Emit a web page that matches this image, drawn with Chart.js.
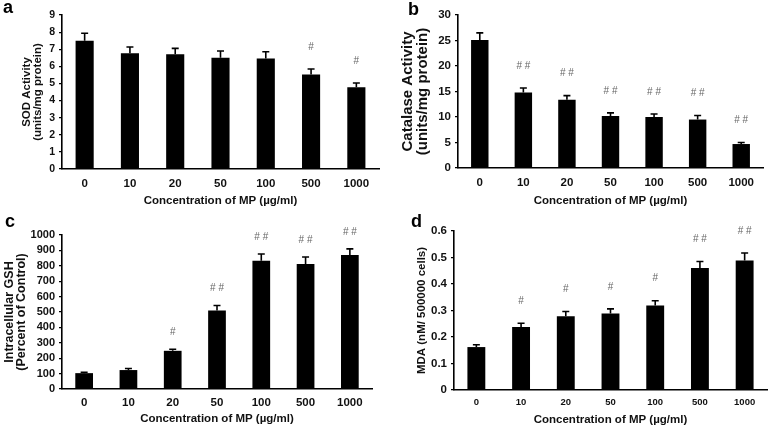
<!DOCTYPE html>
<html>
<head>
<meta charset="utf-8">
<script src="https://cdn.jsdelivr.net/npm/chart.js"></script>
<style>
  body { margin: 0; background: #fff; }
  #wrap { position: relative; width: 778px; height: 427px; overflow: hidden; }
  .panel { position: absolute; }
  .letter { position: absolute; font: bold 18px "Liberation Sans", Arial, sans-serif; line-height: 1; color: #000; }
</style>
</head>
<body>
<div id="wrap">
  <div class="panel" style="left:0;top:0"><canvas id="chartA" width="389" height="213"></canvas></div>
  <div class="panel" style="left:389px;top:0"><canvas id="chartB" width="389" height="213"></canvas></div>
  <div class="panel" style="left:0;top:213px"><canvas id="chartC" width="389" height="214"></canvas></div>
  <div class="panel" style="left:389px;top:213px"><canvas id="chartD" width="389" height="214"></canvas></div>
  <div class="letter" style="left:3px;top:-2px">a</div>
  <div class="letter" style="left:408px;top:0">b</div>
  <div class="letter" style="left:5px;top:212px">c</div>
  <div class="letter" style="left:411px;top:212px">d</div>
</div>
<script>
// categories (x axis)
const concentrations = ['0', '10', '20', '50', '100', '500', '1000'];

// a: SOD activity
const sodValues = [7.5, 6.77, 6.7, 6.5, 6.46, 5.52, 4.78];
const sodErrors = [0.43, 0.36, 0.35, 0.4, 0.39, 0.32, 0.25];
const sodMarks = ['', '', '', '', '', '#', '#'];

// b: Catalase activity
const catalaseValues = [25.1, 14.8, 13.4, 10.2, 10.0, 9.5, 4.7];
const catalaseErrors = [1.4, 0.9, 0.8, 0.6, 0.6, 0.8, 0.3];
const catalaseMarks = ['', '# #', '# #', '# #', '# #', '# #', '# #'];

// c: Intracellular GSH
const gshValues = [103, 123, 248, 510, 832, 812, 870];
const gshErrors = [6, 10, 10, 32, 45, 45, 40];
const gshMarks = ['', '', '#', '# #', '# #', '# #', '# #'];

// d: MDA
const mdaValues = [0.162, 0.238, 0.278, 0.289, 0.319, 0.46, 0.489];
const mdaErrors = [0.009, 0.014, 0.018, 0.017, 0.018, 0.025, 0.028];
const mdaMarks = ['', '#', '#', '#', '#', '# #', '# #'];

const FONT = '"Liberation Sans", Arial, sans-serif';

// draws the upper error bars and the significance marks above them
const errorBarPlugin = {
  id: 'errorBars',
  afterDatasetsDraw(chart, args, opts) {
    const ctx = chart.ctx;
    const yScale = chart.scales.y;
    const meta = chart.getDatasetMeta(0);
    ctx.save();
    ctx.strokeStyle = '#000';
    ctx.lineWidth = 1.6;
    ctx.fillStyle = '#666';
    ctx.font = '10px ' + FONT;
    ctx.textAlign = 'center';
    ctx.textBaseline = 'middle';
    meta.data.forEach((bar, i) => {
      const top = yScale.getPixelForValue(opts.values[i] + opts.errors[i]);
      ctx.beginPath();
      ctx.moveTo(bar.x, bar.y);
      ctx.lineTo(bar.x, top);
      ctx.moveTo(bar.x - 3.5, top);
      ctx.lineTo(bar.x + 3.5, top);
      ctx.stroke();
      if (opts.marks[i]) {
        ctx.fillText(opts.marks[i], bar.x, top - opts.markGap);
      }
    });
    ctx.restore();
  }
};

function makeChart(id, s) {
  return new Chart(document.getElementById(id).getContext('2d'), {
    type: 'bar',
    data: {
      labels: concentrations,
      datasets: [{
        data: s.values,
        backgroundColor: '#000',
        borderWidth: 0,
        barPercentage: 0.4,
        categoryPercentage: 1
      }]
    },
    plugins: [errorBarPlugin],
    options: {
      responsive: false,
      animation: false,
      events: [],
      layout: { padding: { top: s.top, right: s.right, left: 0, bottom: 0 } },
      plugins: {
        legend: { display: false },
        tooltip: { enabled: false },
        errorBars: { values: s.values, errors: s.errors, marks: s.marks, markGap: s.markGap }
      },
      scales: {
        x: {
          grid: { display: false, drawTicks: false },
          border: { color: '#000', width: 1.6 },
          ticks: { color: '#111', font: { family: FONT, size: s.xTickSize, weight: 'bold' }, padding: s.xTickPad, maxRotation: 0 },
          title: {
            display: true,
            text: 'Concentration of MP (µg/ml)',
            color: '#111',
            font: { family: FONT, size: 11.5, weight: 'bold', lineHeight: 1.2 },
            padding: { top: 0, bottom: s.xTitlePad }
          },
          afterFit: (scale) => { scale.height = s.xHeight; }
        },
        y: {
          min: 0,
          max: s.max,
          grid: { drawOnChartArea: false, drawTicks: true, tickLength: 3, color: '#000', lineWidth: 1.2 },
          border: { color: '#000', width: 1.6 },
          ticks: {
            stepSize: s.step,
            autoSkip: false,
            format: { useGrouping: false, maximumFractionDigits: 2 },
            color: '#111',
            font: { family: FONT, size: s.yTickSize, weight: 'bold', lineHeight: 1 },
            padding: 4
          },
          title: {
            display: true,
            text: s.yTitle,
            color: '#111',
            font: { family: FONT, size: s.yTitleSize, weight: 'bold', lineHeight: s.yTitleLine },
            padding: { top: s.yTitlePad, bottom: 0 }
          },
          afterFit: (scale) => { scale.width = s.yWidth; }
        }
      }
    }
  });
}

makeChart('chartA', {
  values: sodValues, errors: sodErrors, marks: sodMarks, markGap: 22,
  max: 9, step: 1,
  yTitle: ['SOD Activity', '(units/mg protein)'], yTitleSize: 11.5, yTitleLine: 1.0, yTitlePad: 21,
  top: 15, right: 10, yWidth: 62, xHeight: 44,
  yTickSize: 10.5, xTickSize: 11.5, xTickPad: 8, xTitlePad: 5
});

makeChart('chartB', {
  values: catalaseValues, errors: catalaseErrors, marks: catalaseMarks, markGap: 22,
  max: 30, step: 5,
  yTitle: ['Catalase Activity', '(units/mg protein)'], yTitleSize: 15, yTitleLine: 0.95, yTitlePad: 12,
  top: 15, right: 15, yWidth: 69, xHeight: 45,
  yTickSize: 11.5, xTickSize: 11.5, xTickPad: 8, xTitlePad: 5
});

makeChart('chartC', {
  values: gshValues, errors: gshErrors, marks: gshMarks, markGap: 17,
  max: 1000, step: 100,
  yTitle: ['Intracellular GSH', '(Percent of Control)'], yTitleSize: 12.5, yTitleLine: 0.96, yTitlePad: 4,
  top: 22, right: 17, yWidth: 62, xHeight: 38,
  yTickSize: 11, xTickSize: 11.5, xTickPad: 7, xTitlePad: 1
});

makeChart('chartD', {
  values: mdaValues, errors: mdaErrors, marks: mdaMarks, markGap: 22,
  max: 0.6, step: 0.1,
  yTitle: 'MDA (nM/ 500000 cells)', yTitleSize: 11.5, yTitleLine: 1.2, yTitlePad: 26,
  top: 18, right: 11, yWidth: 65, xHeight: 37,
  yTickSize: 11.5, xTickSize: 9.5, xTickPad: 7, xTitlePad: 0
});
</script>
</body>
</html>
